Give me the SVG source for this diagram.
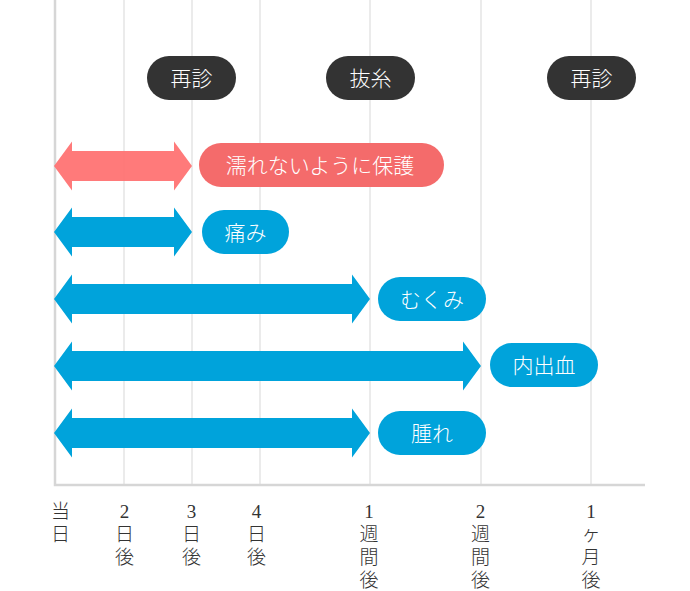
<svg xmlns="http://www.w3.org/2000/svg" width="690" height="591" viewBox="0 0 690 591">
<style>
.grid{stroke:#e4e4e4;stroke-width:1.5}
.axis{stroke:#d6d6d6;stroke-width:2.5;fill:none}
.dark{fill:#333333}
.pink{fill:#ff7373}
.pinkpill{fill:#f46b6b}
.blue{fill:#00a3db}
.pt{font-family:"Noto Sans CJK JP","Noto Sans",sans-serif;font-size:21px;font-weight:300;fill:#ffffff;text-anchor:middle}
.ax{font-family:"Liberation Serif","Noto Sans CJK JP",serif;font-size:19px;font-weight:300;fill:#333333;text-anchor:middle}
</style>
<rect width="690" height="591" fill="#ffffff"/>
<g id="grid">
<line class="grid" x1="124" y1="0" x2="124" y2="485"/>
<line class="grid" x1="192" y1="0" x2="192" y2="485"/>
<line class="grid" x1="260" y1="0" x2="260" y2="485"/>
<line class="grid" x1="370" y1="0" x2="370" y2="485"/>
<line class="grid" x1="481" y1="0" x2="481" y2="485"/>
<line class="grid" x1="591" y1="0" x2="591" y2="485"/>
<polyline class="axis" points="55,0 55,485 645,485"/>
</g>
<g id="connectors">
<polygon class="pink" opacity="0.95" points="54,166 72,141.5 72,151 174,151 174,141.5 192,166 174,190.5 174,181 72,181 72,190.5"/>
<polygon class="blue" points="54,232 72,207.5 72,217 174,217 174,207.5 192,232 174,256.5 174,247 72,247 72,256.5"/>
<polygon class="blue" points="54,299 72,274.5 72,284 352,284 352,274.5 370,299 352,323.5 352,314 72,314 72,323.5"/>
<polygon class="blue" points="54,366 72,341.5 72,351 463,351 463,341.5 481,366 463,390.5 463,381 72,381 72,390.5"/>
<polygon class="blue" points="54,433 72,408.5 72,418 352,418 352,408.5 370,433 352,457.5 352,448 72,448 72,457.5"/>
</g>
<g id="visit1"><rect class="dark" x="147" y="56" width="89" height="44" rx="22"/><text class="pt" x="191.5" y="85.5">再診</text></g>
<g id="suture"><rect class="dark" x="326" y="56" width="89" height="44" rx="22"/><text class="pt" x="370.5" y="85.5">抜糸</text></g>
<g id="visit2"><rect class="dark" x="547" y="56" width="89" height="44" rx="22"/><text class="pt" x="591.5" y="85.5">再診</text></g>
<g id="protect"><rect class="pinkpill" x="199" y="143" width="245" height="44" rx="22"/><text class="pt" x="320" y="172.5">濡れないように保護</text></g>
<g id="pain"><rect class="blue" x="202" y="210" width="87" height="44" rx="22"/><text class="pt" x="245.5" y="239.5">痛み</text></g>
<g id="swelling-face"><rect class="blue" x="378" y="277" width="108" height="44" rx="22"/><text class="pt" x="432" y="306.5">むくみ</text></g>
<g id="bruise"><rect class="blue" x="490" y="343" width="108" height="44" rx="22"/><text class="pt" x="544" y="372.5">内出血</text></g>
<g id="swelling"><rect class="blue" x="378" y="411" width="108" height="44" rx="22"/><text class="pt" x="432" y="440.5">腫れ</text></g>
<g id="axis-labels">
<text class="ax" x="60.5" y="518">当</text><text class="ax" x="60.5" y="541">日</text>
<text class="ax" x="124.5" y="518">2</text><text class="ax" x="124.5" y="541">日</text><text class="ax" x="124.5" y="564">後</text>
<text class="ax" x="191.5" y="518">3</text><text class="ax" x="191.5" y="541">日</text><text class="ax" x="191.5" y="564">後</text>
<text class="ax" x="256.5" y="518">4</text><text class="ax" x="256.5" y="541">日</text><text class="ax" x="256.5" y="564">後</text>
<text class="ax" x="369" y="518">1</text><text class="ax" x="369" y="541">週</text><text class="ax" x="369" y="564">間</text><text class="ax" x="369" y="587">後</text>
<text class="ax" x="480.5" y="518">2</text><text class="ax" x="480.5" y="541">週</text><text class="ax" x="480.5" y="564">間</text><text class="ax" x="480.5" y="587">後</text>
<text class="ax" x="591" y="518">1</text><text class="ax" x="591" y="541">ヶ</text><text class="ax" x="591" y="564">月</text><text class="ax" x="591" y="587">後</text>
</g>
</svg>
